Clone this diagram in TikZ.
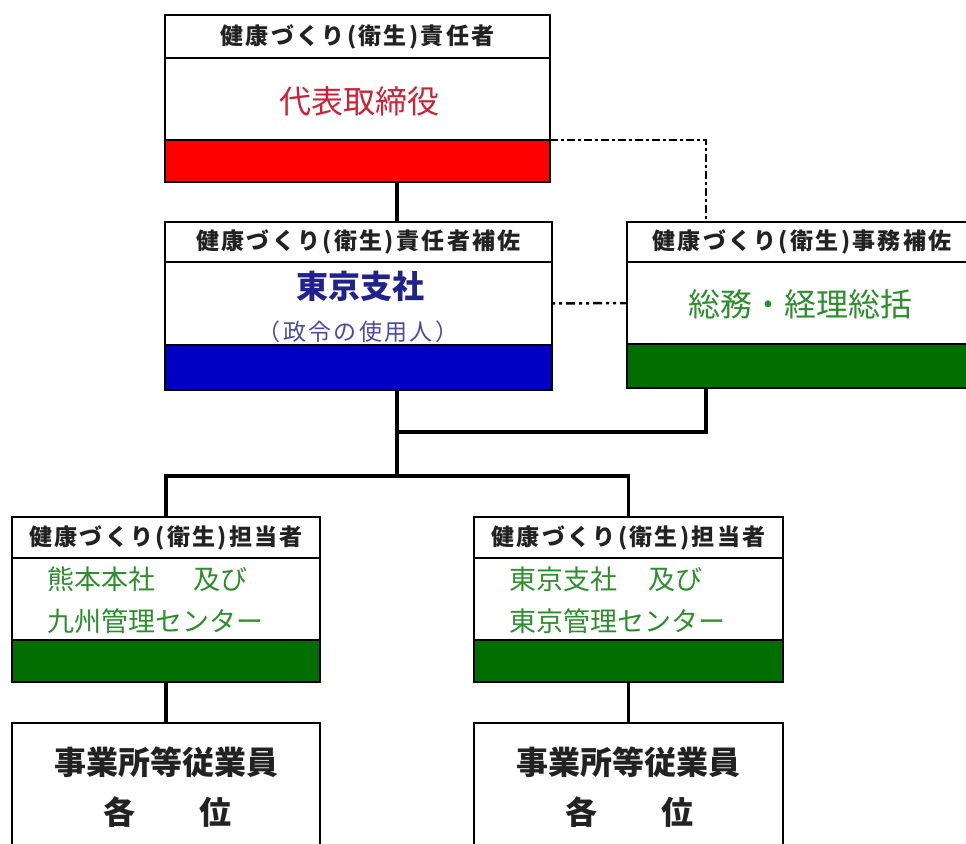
\documentclass[tikz,border=0pt]{standalone}
\usepackage{fontspec}
\setmainfont{Noto Sans CJK JP}
\newfontfamily\hdrfont[LetterSpace=10]{Noto Sans CJK JP}
\newfontfamily\spfont[LetterSpace=10]{Noto Sans CJK JP}
\definecolor{bandred}{HTML}{FF0000}
\definecolor{bandblue}{HTML}{0000C4}
\definecolor{bandgreen}{HTML}{006E00}
\definecolor{txtred}{HTML}{CC2236}
\definecolor{txtblue}{HTML}{22228C}
\definecolor{txtblue2}{HTML}{4A4AA0}
\definecolor{txtgreen}{HTML}{2E8E2E}
\definecolor{txthdr}{HTML}{222222}
\begin{document}
\begin{tikzpicture}[x=1pt,y=-1pt,
  boxpart/.style={draw=black, line width=2.6pt, inner sep=0pt, outer sep=0pt, anchor=north west, fill=white},
  hdr/.style={boxpart, text=txthdr, font=\hdrfont\bfseries\fontsize{23}{25}\selectfont},
  band/.style={boxpart, fill=#1},
  bigtxt/.style={inner sep=0pt, font=\bfseries\fontsize{32}{34}\selectfont},
  medtxt/.style={inner sep=0pt, font=\fontsize{32}{34}\selectfont},
  subtxt/.style={inner sep=0pt, text=txtgreen, anchor=west, font=\fontsize{27}{29}\selectfont},
  link/.style={line width=3.6pt, black},
  dashdot1/.style={line width=2pt, black, dash pattern=on 8pt off 3pt on 3pt off 3pt},
  dashdot2/.style={line width=2.5pt, black, dash pattern=on 3pt off 4pt on 3pt off 4pt on 9pt off 4pt}
]
\clip (0,0) rectangle (966,843);
\fill[white] (0,0) rectangle (966,843);

% top box
\node[hdr, minimum width=385, minimum height=43] (th) at (165,15) {健康づくり(衛生)責任者};
\node[boxpart, minimum width=385, minimum height=82] (tbody) at (165,58) {};
\node[band=bandred, minimum width=385, minimum height=42] (tb) at (165,140) {};
\node[medtxt, text=txtred] (ttxt) at (359,101) {代表取締役};

% middle box
\node[hdr, minimum width=387, minimum height=40] (mh) at (165,222) {健康づくり(衛生)責任者補佐};
\node[boxpart, minimum width=387, minimum height=83] (mb) at (165,262) {};
\node[band=bandblue, minimum width=387, minimum height=45] (mband) at (165,345) {};
\node[bigtxt, text=txtblue] (mtxt1) at (360,286) {東京支社};
\node[inner sep=0pt, text=txtblue2, font=\spfont\fontsize{23}{25}\selectfont] (mtxt2) at (358,332) {（政令の使用人）};

% right box
\node[hdr, minimum width=350, minimum height=40] (rh) at (627,222) {健康づくり(衛生)事務補佐};
\node[boxpart, minimum width=350, minimum height=82] (rb) at (627,262) {};
\node[band=bandgreen, minimum width=350, minimum height=44] (rband) at (627,344) {};
\node[medtxt, text=txtgreen] (rtxt) at (800,304) {総務・経理総括};

% child boxes
\node[hdr, minimum width=308, minimum height=41] (c1h) at (12,517) {健康づくり(衛生)担当者};
\node[boxpart, minimum width=308, minimum height=82] (c1body) at (12,558) {};
\node[band=bandgreen, minimum width=308, minimum height=42] (c1b) at (12,640) {};
\node[subtxt] (c1t1) at (47,579) {熊本本社\hspace{38pt}及び};
\node[subtxt] (c1t2) at (47,621) {九州管理センター};

\node[hdr, minimum width=309, minimum height=41] (c2h) at (474,517) {健康づくり(衛生)担当者};
\node[boxpart, minimum width=309, minimum height=82] (c2body) at (474,558) {};
\node[band=bandgreen, minimum width=309, minimum height=42] (c2b) at (474,640) {};
\node[subtxt] (c2t1) at (509,579) {東京支社\hspace{31pt}及び};
\node[subtxt] (c2t2) at (509,621) {東京管理センター};

% bottom boxes
\node[boxpart, minimum width=308, minimum height=160] (b1) at (12,723) {};
\node[bigtxt, text=txthdr] (b1t1) at (166,762) {事業所等従業員};
\node[bigtxt, text=txthdr] (b1t2) at (167,812) {各　　位};
\node[boxpart, minimum width=309, minimum height=160] (b2) at (474,723) {};
\node[bigtxt, text=txthdr] (b2t1) at (628,762) {事業所等従業員};
\node[bigtxt, text=txthdr] (b2t2) at (629,812) {各　　位};

% connectors
\coordinate (xa) at (397,0);
\coordinate (xb) at (706,0);
\coordinate (j1) at (397,432);
\coordinate (j2) at (397,476);
\draw[link] (tb.south -| xa) -- (mh.north -| xa);
\draw[dashdot1] (tb.north east) -- (tb.north east -| xb) -- (rh.north -| xb);
\draw[dashdot2] (mb.east) -- (rb.west);
\draw[link] (mband.south -| xa) -- (j2);
\draw[link] (rband.south -| xb) |- (j1);
\draw[link] (c1h.north) |- (j2) -| (c2h.north);
\draw[link] (c1b.south) -- (b1.north);
\draw[link] (c2b.south) -- (b2.north);
\end{tikzpicture}
\end{document}
